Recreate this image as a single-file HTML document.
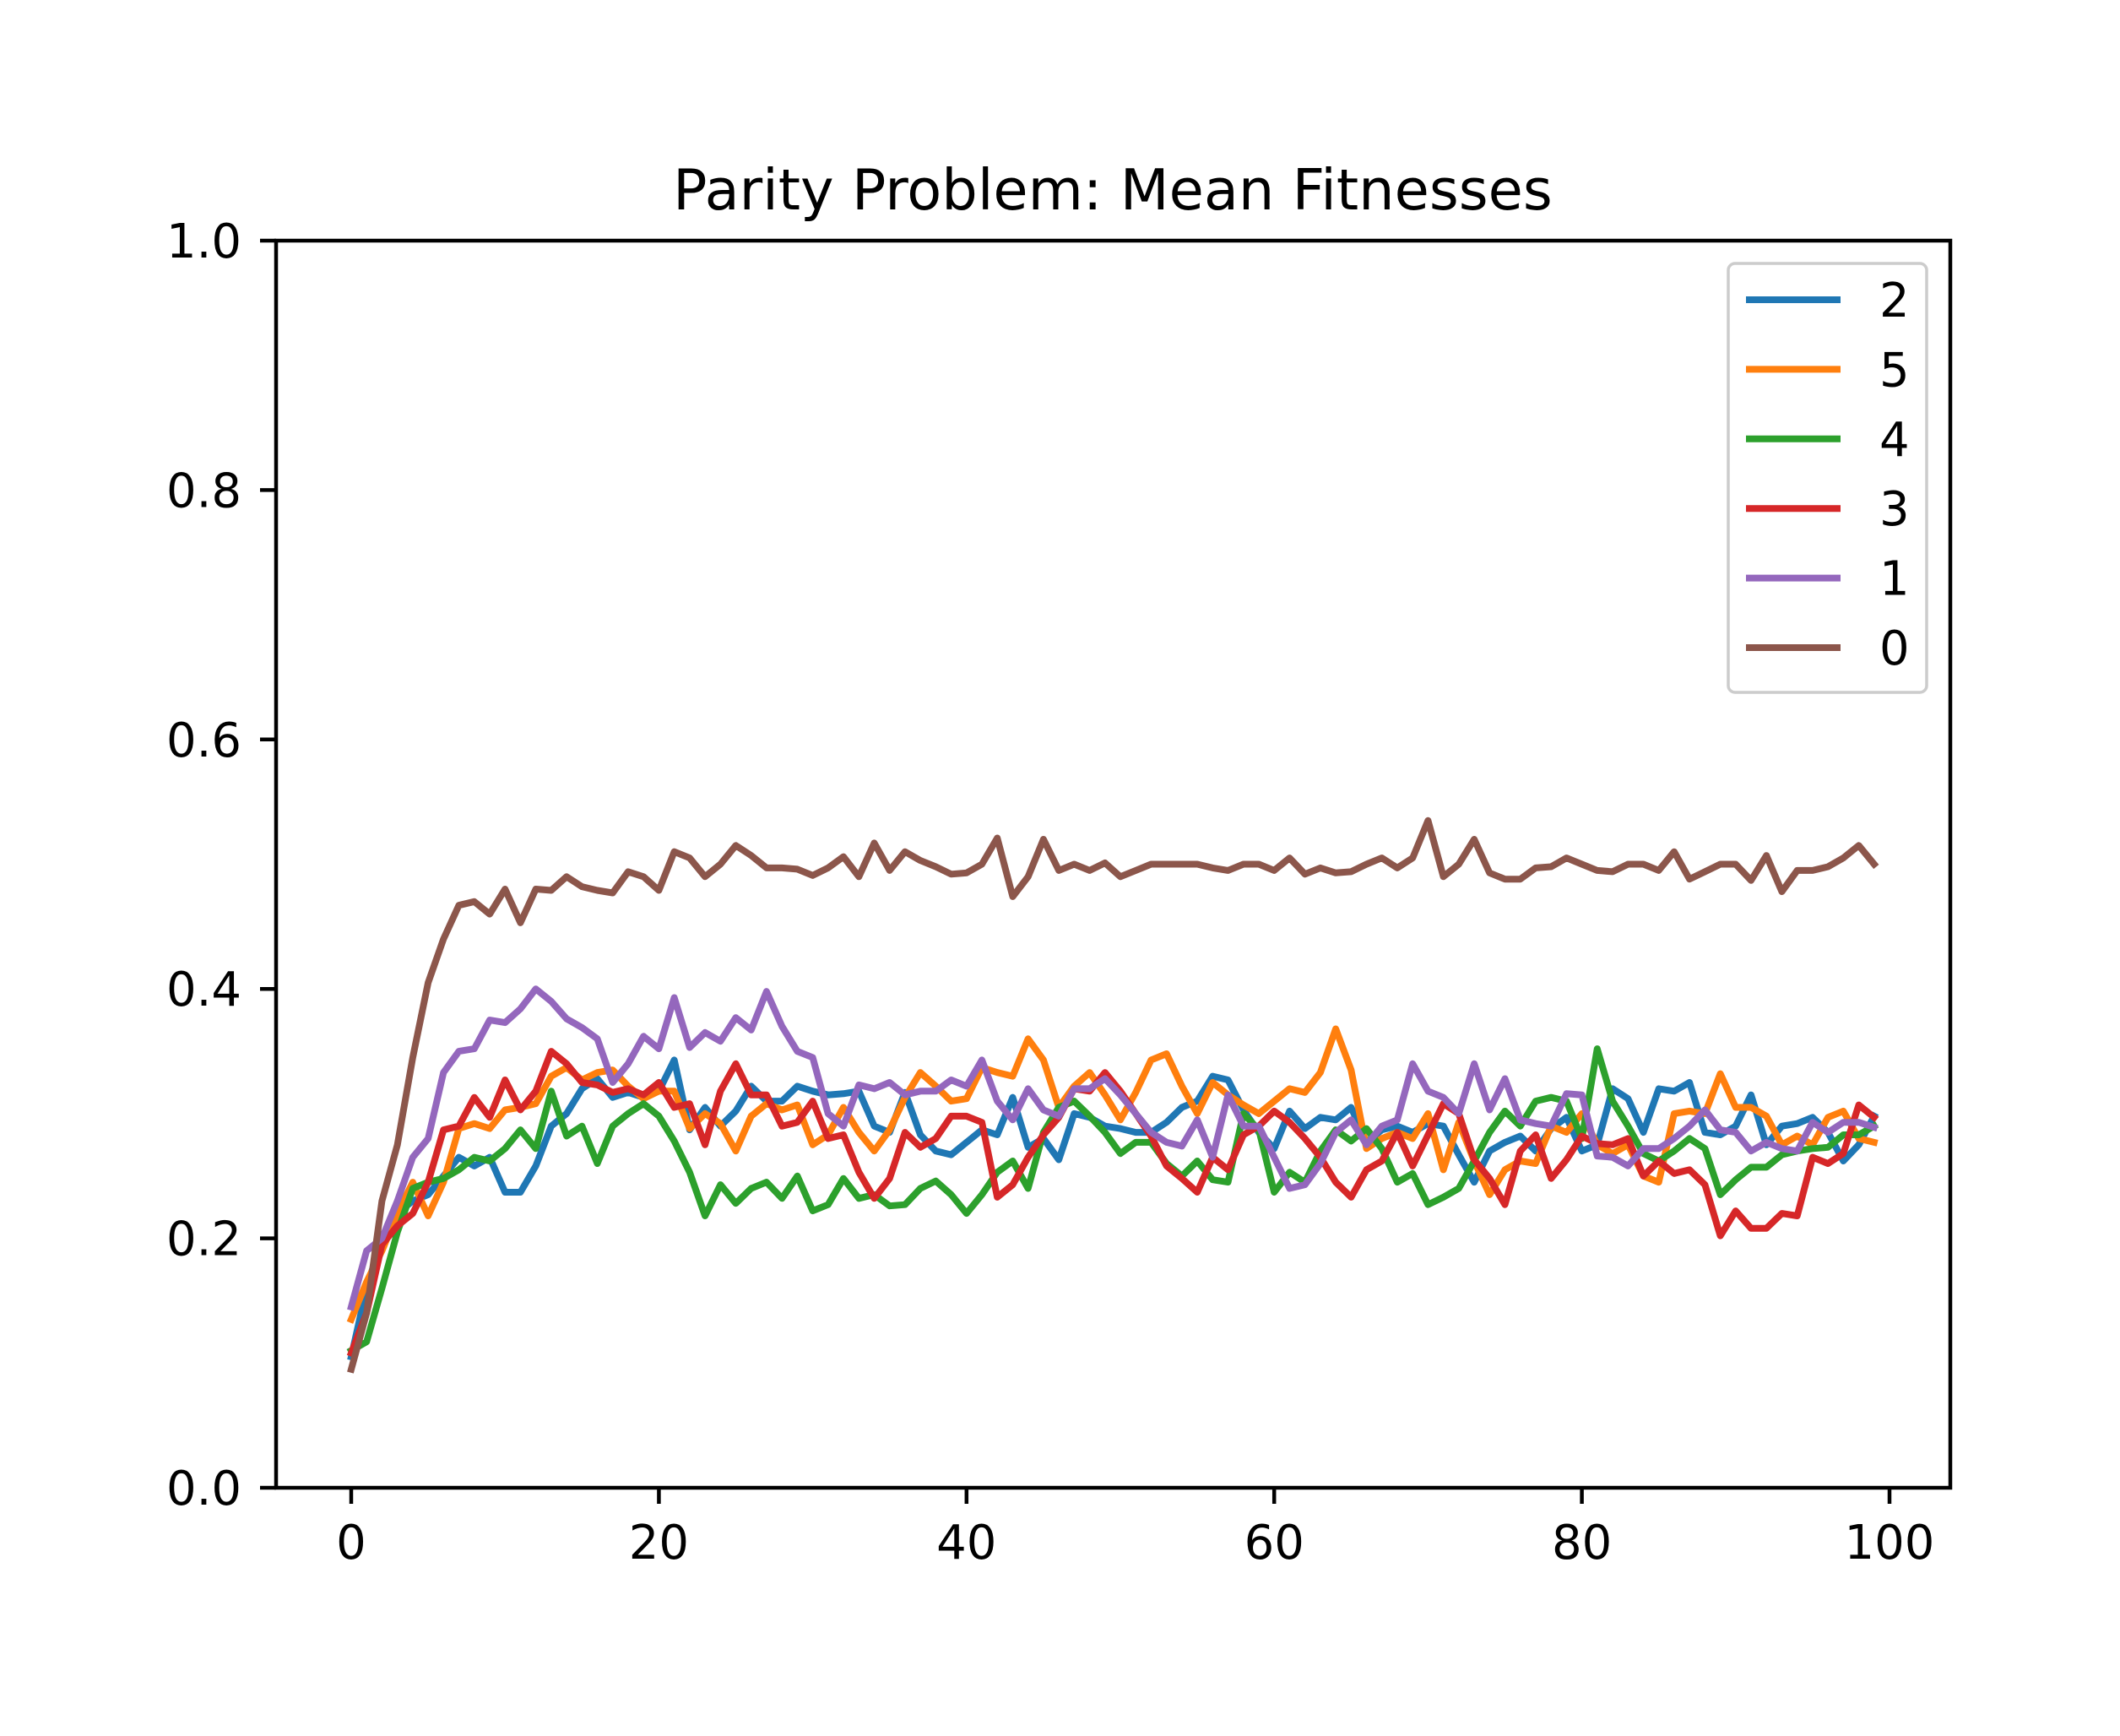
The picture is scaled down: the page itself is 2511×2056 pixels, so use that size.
<!DOCTYPE html>
<html><head><meta charset="utf-8">
<style>
html,body{margin:0;padding:0;background:#fff;}
svg{display:block;}
text{font-family:"DejaVu Sans","Liberation Sans",sans-serif;fill:#000;}
</style></head>
<body>
<svg id="chart" width="2511" height="2056" viewBox="0 0 2511 2056" xmlns="http://www.w3.org/2000/svg">
<rect x="0" y="0" width="2511" height="2056" fill="#fff"/>
<text x="1318" y="248" font-size="67" text-anchor="middle">Parity Problem: Mean Fitnesses</text>
<g id="series"></g>
<g id="axes"></g>
<g id="legend"></g>
</svg>
<script>
const xTicks = [0, 20, 40, 60, 80, 100];
const yTicks = [0.0, 0.2, 0.4, 0.6, 0.8, 1.0];
const yTickLabels = ["0.0", "0.2", "0.4", "0.6", "0.8", "1.0"];
const seriesNames = ["2", "5", "4", "3", "1", "0"];
const seriesColors = ["#1f77b4", "#ff7f0e", "#2ca02c", "#d62728", "#9467bd", "#8c564b"];
const s2 = [0.105,0.16,0.2,0.22,0.23,0.235,0.25,0.265,0.258,0.265,0.237,0.237,0.258,0.29,0.3,0.32,0.328,0.313,0.317,0.313,0.318,0.343,0.287,0.305,0.29,0.302,0.322,0.31,0.31,0.322,0.318,0.315,0.316,0.318,0.29,0.285,0.317,0.283,0.27,0.267,0.277,0.287,0.283,0.313,0.273,0.28,0.263,0.3,0.297,0.29,0.288,0.285,0.285,0.293,0.305,0.31,0.33,0.327,0.303,0.285,0.272,0.302,0.288,0.297,0.295,0.305,0.277,0.287,0.29,0.285,0.292,0.29,0.267,0.245,0.27,0.277,0.282,0.27,0.288,0.297,0.27,0.275,0.32,0.312,0.285,0.32,0.318,0.325,0.285,0.283,0.29,0.315,0.275,0.29,0.292,0.297,0.285,0.262,0.275,0.298];
const s5 = [0.135,0.165,0.19,0.22,0.245,0.218,0.245,0.288,0.292,0.288,0.303,0.305,0.308,0.33,0.337,0.327,0.333,0.335,0.322,0.312,0.318,0.318,0.288,0.3,0.292,0.27,0.298,0.308,0.303,0.307,0.275,0.283,0.305,0.285,0.27,0.287,0.313,0.333,0.322,0.31,0.312,0.337,0.333,0.33,0.36,0.343,0.305,0.322,0.333,0.315,0.295,0.317,0.343,0.348,0.322,0.3,0.325,0.315,0.307,0.3,0.31,0.32,0.317,0.333,0.368,0.335,0.272,0.28,0.285,0.28,0.3,0.255,0.293,0.262,0.235,0.255,0.262,0.26,0.29,0.285,0.3,0.275,0.268,0.275,0.25,0.245,0.3,0.302,0.3,0.332,0.305,0.305,0.298,0.275,0.282,0.275,0.297,0.302,0.28,0.277];
const s4 = [0.11,0.117,0.16,0.205,0.24,0.245,0.248,0.255,0.265,0.262,0.272,0.287,0.272,0.318,0.282,0.29,0.26,0.29,0.3,0.308,0.298,0.278,0.253,0.218,0.243,0.228,0.24,0.245,0.232,0.25,0.222,0.227,0.248,0.232,0.235,0.226,0.227,0.24,0.246,0.235,0.22,0.235,0.253,0.262,0.24,0.285,0.305,0.31,0.298,0.285,0.268,0.277,0.277,0.26,0.25,0.262,0.247,0.245,0.3,0.287,0.237,0.253,0.245,0.27,0.287,0.278,0.288,0.272,0.245,0.252,0.227,0.233,0.24,0.262,0.285,0.302,0.29,0.31,0.313,0.31,0.28,0.352,0.31,0.29,0.268,0.262,0.27,0.28,0.272,0.235,0.247,0.257,0.257,0.267,0.27,0.272,0.273,0.283,0.283,0.29];
const s3 = [0.108,0.14,0.195,0.21,0.22,0.245,0.287,0.29,0.313,0.297,0.327,0.303,0.318,0.35,0.34,0.325,0.323,0.317,0.32,0.315,0.325,0.305,0.308,0.275,0.318,0.34,0.315,0.315,0.29,0.293,0.31,0.28,0.283,0.253,0.232,0.248,0.285,0.273,0.28,0.298,0.298,0.293,0.233,0.243,0.265,0.283,0.297,0.32,0.318,0.333,0.318,0.3,0.282,0.258,0.248,0.237,0.265,0.255,0.283,0.29,0.302,0.293,0.28,0.265,0.245,0.233,0.255,0.262,0.285,0.258,0.283,0.308,0.3,0.263,0.248,0.227,0.27,0.283,0.248,0.263,0.282,0.276,0.275,0.28,0.25,0.262,0.252,0.255,0.243,0.202,0.222,0.208,0.208,0.22,0.218,0.265,0.26,0.268,0.307,0.297];
const s1 = [0.145,0.19,0.2,0.23,0.265,0.28,0.333,0.35,0.352,0.375,0.373,0.384,0.4,0.39,0.376,0.369,0.36,0.325,0.34,0.362,0.352,0.393,0.353,0.365,0.358,0.377,0.367,0.398,0.37,0.35,0.345,0.3,0.29,0.323,0.32,0.325,0.315,0.318,0.318,0.327,0.322,0.343,0.31,0.295,0.32,0.303,0.298,0.32,0.32,0.328,0.315,0.3,0.285,0.277,0.274,0.295,0.265,0.315,0.29,0.29,0.265,0.24,0.243,0.26,0.285,0.295,0.275,0.29,0.295,0.34,0.318,0.313,0.3,0.34,0.303,0.328,0.295,0.292,0.29,0.316,0.315,0.266,0.265,0.258,0.272,0.272,0.28,0.29,0.303,0.287,0.285,0.27,0.277,0.272,0.27,0.293,0.285,0.293,0.293,0.289];
const s0 = [0.095,0.14,0.23,0.275,0.345,0.405,0.44,0.467,0.47,0.46,0.48,0.453,0.48,0.479,0.49,0.482,0.479,0.477,0.494,0.49,0.479,0.51,0.505,0.49,0.5,0.515,0.507,0.497,0.497,0.496,0.491,0.497,0.506,0.49,0.517,0.495,0.51,0.503,0.498,0.492,0.493,0.5,0.521,0.474,0.49,0.52,0.495,0.5,0.495,0.501,0.49,0.495,0.5,0.5,0.5,0.5,0.497,0.495,0.5,0.5,0.495,0.505,0.492,0.497,0.493,0.494,0.5,0.505,0.497,0.505,0.535,0.49,0.5,0.52,0.493,0.488,0.488,0.497,0.498,0.505,0.5,0.495,0.494,0.5,0.5,0.495,0.51,0.488,0.494,0.5,0.5,0.487,0.507,0.478,0.495,0.495,0.498,0.505,0.515,0.5];
const allSeries = [s2, s5, s4, s3, s1, s0];

const NS = "http://www.w3.org/2000/svg";
const L = 327, R = 2310, T = 285, B = 1762;
const X0 = 416, X100 = 2238;
function xs(v){ return X0 + (X100 - X0) * v / 100; }
function ys(v){ return B - (B - T) * v; }
function mk(tag, attrs, parent){
  const e = document.createElementNS(NS, tag);
  for (const k in attrs) e.setAttribute(k, attrs[k]);
  parent.appendChild(e);
  return e;
}
const gS = document.getElementById("series");
const gA = document.getElementById("axes");
const gL = document.getElementById("legend");

allSeries.forEach((data, si) => {
  const pts = data.map((v, i) => xs(i).toFixed(1) + "," + ys(v).toFixed(1)).join(" ");
  const pl = mk("polyline", {points: pts, fill: "none", stroke: seriesColors[si], "stroke-width": 8, "stroke-linejoin": "round", "stroke-linecap": "square"}, gS);
  
  
});

const frame = mk("rect", {x: L, y: T, width: R - L, height: B - T, fill: "none", stroke: "#000", "stroke-width": 4.5}, gA);



xTicks.forEach((t) => {
  const x = xs(t);
  const tk = mk("line", {x1: x, y1: B, x2: x, y2: B + 19, stroke: "#000", "stroke-width": 4.5}, gA);
  
  
  const lb = mk("text", {x: x, y: 1846, "font-size": 56, "text-anchor": "middle"}, gA);
  lb.textContent = String(t);
  
  
});
yTicks.forEach((t, i) => {
  const y = ys(t);
  const tk = mk("line", {x1: L - 19, y1: y, x2: L, y2: y, stroke: "#000", "stroke-width": 4.5}, gA);
  
  
  const lb = mk("text", {x: 286, y: y + 20, "font-size": 56, "text-anchor": "end"}, gA);
  lb.textContent = yTickLabels[i];
  
  
});

const box = mk("rect", {x: 2047, y: 312, width: 235, height: 508, rx: 8, fill: "#fff", "fill-opacity": 0.8, stroke: "#ccc", "stroke-width": 3.5}, gL);


seriesNames.forEach((n, i) => {
  const y = 355 + i * 82.4;
  const ln = mk("line", {x1: 2068, y1: y, x2: 2180, y2: y, stroke: seriesColors[i], "stroke-width": 8}, gL);
  
  
  const tx = mk("text", {x: 2226, y: y + 20, "font-size": 56}, gL);
  tx.textContent = n;
  
  
});
</script>
</body></html>
